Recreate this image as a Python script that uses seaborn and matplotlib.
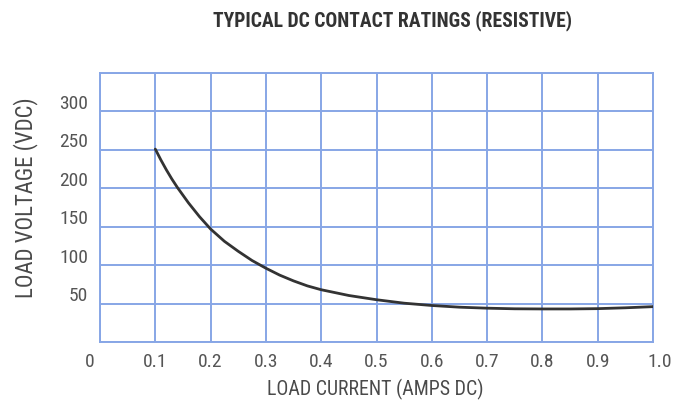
import matplotlib
matplotlib.use("Agg")
import matplotlib.pyplot as plt
from matplotlib.transforms import ScaledTranslation
import seaborn as sns
import pandas as pd

# Load current (A DC) and the maximum load voltage (V DC) of the rating curve
current = [0.10, 0.11, 0.12, 0.13, 0.14, 0.15, 0.16, 0.17, 0.18, 0.19, 0.20,
           0.225, 0.25, 0.275, 0.30, 0.325, 0.35, 0.375, 0.40, 0.45, 0.50,
           0.55, 0.60, 0.65, 0.70, 0.75, 0.80, 0.85, 0.90, 0.95, 1.00]
voltage = [251, 237, 224, 212, 201, 191, 181, 172, 163, 155, 147,
           131, 118, 106, 96, 87, 79.5, 73, 68, 60.5, 55,
           50.5, 47.5, 45.3, 44, 43.2, 43, 43, 43.4, 44.5, 46]

x_ticks = [0.0, 0.1, 0.2, 0.3, 0.4, 0.5, 0.6, 0.7, 0.8, 0.9, 1.0]
x_tick_labels = ["0", "0.1", "0.2", "0.3", "0.4", "0.5", "0.6", "0.7", "0.8", "0.9", "1.0"]
y_grid = [0, 50, 100, 150, 200, 250, 300, 350]
y_ticks = [50, 100, 150, 200, 250, 300]
y_tick_labels = ["50", "100", "150", "200", "250", "300"]

title = "TYPICAL DC CONTACT RATINGS (RESISTIVE)"
x_label = "LOAD CURRENT (AMPS DC)"
y_label = "LOAD VOLTAGE (VDC)"

sns.set_theme(style="white")
plt.rcParams["font.family"] = ["Roboto Condensed", "Liberation Sans", "DejaVu Sans"]

GRID = "#87a6e6"
TEXT = "#4a4a4a"

df = pd.DataFrame({"current": current, "voltage": voltage})

fig = plt.figure(figsize=(6.87, 4.0), dpi=100)
ax = fig.add_axes([100 / 687, 1 - 342 / 400, 553 / 687, 269 / 400])

# blue grid paper
for v in x_ticks:
    ax.axvline(v, color=GRID, lw=1.4, zorder=1)
for v in y_grid:
    ax.axhline(v, color=GRID, lw=1.4, zorder=1)

sns.lineplot(data=df, x="current", y="voltage", color="#333333",
             linewidth=2.0, ax=ax, zorder=3)

ax.set_xlim(0, 1.0)
ax.set_ylim(0, 350)
for s in ax.spines.values():
    s.set_color(GRID)
    s.set_linewidth(1.4)

ax.set_xticks(x_ticks)
ax.set_xticklabels(x_tick_labels)
ax.set_yticks(y_ticks)
ax.set_yticklabels(y_tick_labels)
ax.tick_params(axis="both", length=0, labelsize=14, labelcolor="#555555")
ax.tick_params(axis="x", pad=8)
ax.tick_params(axis="y", pad=8.6)

# y labels sit a little above their grid lines
for lab in ax.get_yticklabels():
    lab.set_transform(lab.get_transform() + ScaledTranslation(0, 0.095, fig.dpi_scale_trans))
xl = ax.get_xticklabels()
xl[0].set_transform(xl[0].get_transform() + ScaledTranslation(-0.10, 0, fig.dpi_scale_trans))
xl[-1].set_transform(xl[-1].get_transform() + ScaledTranslation(0.07, 0, fig.dpi_scale_trans))

ax.set_xlabel(x_label, fontsize=14.3, color=TEXT)
ax.xaxis.set_label_coords(0.497, -0.1375)
ax.set_ylabel(y_label, fontsize=16.4, color=TEXT)
ax.yaxis.set_label_coords(-0.112, 0.537)

fig.text(392.5 / 687, 1 - 20.5 / 400, title, ha="center", va="center",
         fontsize=14.1, fontweight="bold", color="#333333")

fig.savefig("out.png", dpi=100, facecolor="white")
